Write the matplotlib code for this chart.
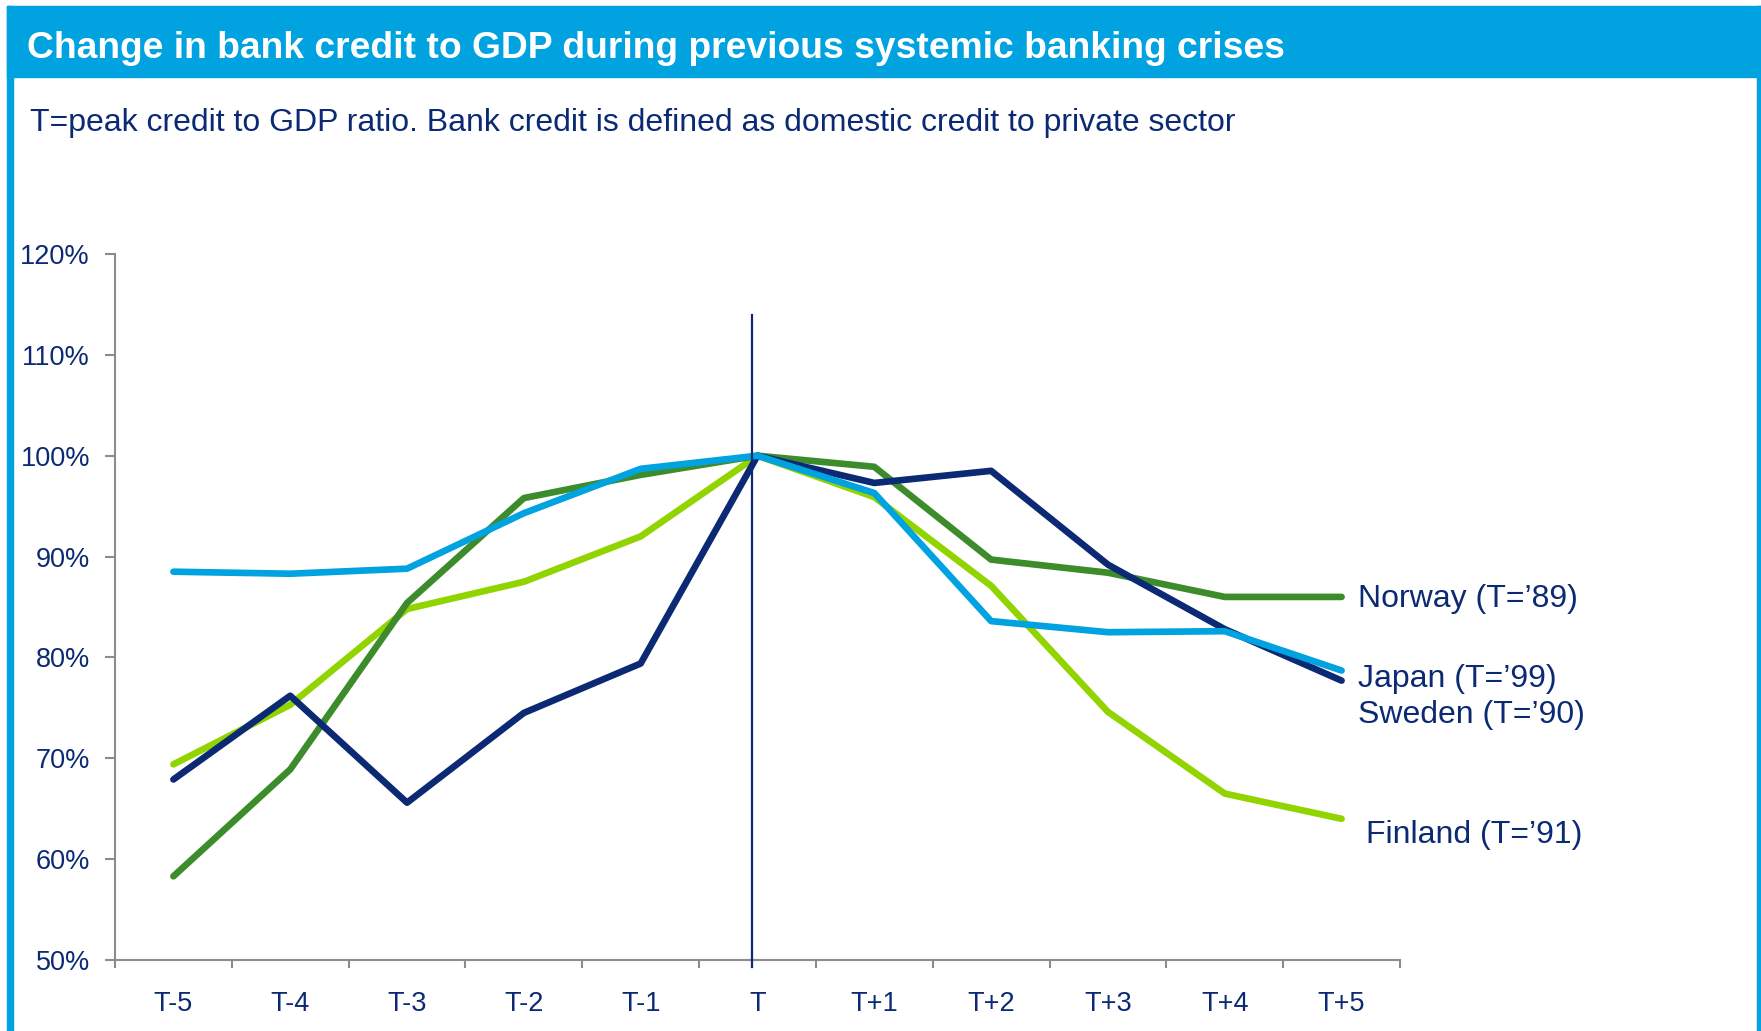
import matplotlib.pyplot as plt
from matplotlib.patches import Rectangle
from matplotlib.ticker import FixedLocator, FuncFormatter

# data (credit/GDP, T = 100%)
periods = ["T-5", "T-4", "T-3", "T-2", "T-1", "T", "T+1", "T+2", "T+3", "T+4", "T+5"]
norway = [58.3, 68.9, 85.4, 95.8, 98.1, 100.0, 98.9, 89.7, 88.4, 86.0, 86.0]
finland = [69.4, 75.3, 84.8, 87.5, 92.0, 100.0, 95.9, 87.1, 74.6, 66.5, 64.0]
sweden = [67.9, 76.2, 65.6, 74.5, 79.4, 100.0, 97.3, 98.5, 89.2, 82.8, 77.7]
japan = [88.5, 88.3, 88.8, 94.3, 98.7, 100.0, 96.3, 83.6, 82.5, 82.6, 78.7]
labels = ["Norway (T=\u201989)", "Japan (T=\u201999)", "Sweden (T=\u201990)", "Finland (T=\u201991)"]

NAVY = "#0B2A73"
BLUE = "#00A3E0"
LGREEN = "#92D400"
DGREEN = "#3C8C2C"
GRAY = "#8C8C8C"

plt.rcParams["font.family"] = ["Liberation Sans", "DejaVu Sans"]

fig = plt.figure(figsize=(17.61, 10.31), dpi=100)

# header band and side borders
fig.patches.append(Rectangle((7 / 1761, 1 - 77 / 1031), 1, 71 / 1031,
                             transform=fig.transFigure, color=BLUE, zorder=0))
fig.patches.append(Rectangle((7 / 1761, 0), 6 / 1761, 1 - 6 / 1031,
                             transform=fig.transFigure, color=BLUE, zorder=0))
fig.patches.append(Rectangle((1757 / 1761, 0), 4 / 1761, 1 - 6 / 1031,
                             transform=fig.transFigure, color=BLUE, zorder=0))

fig.text(27 / 1761, 1 - 49 / 1031,
         "Change in bank credit to GDP during previous systemic banking crises",
         color="white", fontsize=26.8, fontweight="bold", va="center", ha="left")
fig.text(30 / 1761, 1 - 123 / 1031,
         "T=peak credit to GDP ratio. Bank credit is defined as domestic credit to private sector",
         color=NAVY, fontsize=23, va="center", ha="left")

ax = fig.add_axes([115 / 1761, 1 - 960 / 1031, 1285 / 1761, 706 / 1031])
x = list(range(len(periods)))

ax.plot(x, japan, color=BLUE, lw=4.8, solid_capstyle="round", solid_joinstyle="round", zorder=3)
ax.plot(x, finland, color=LGREEN, lw=4.8, solid_capstyle="round", solid_joinstyle="round", zorder=2)
ax.plot(x, norway, color=DGREEN, lw=4.8, solid_capstyle="round", solid_joinstyle="round", zorder=2.5)
ax.plot(x, sweden, color=NAVY, lw=4.8, solid_capstyle="round", solid_joinstyle="round", zorder=2.7)

# vertical marker at the peak year
ax.plot([4.95, 4.95], [49.3, 114], color=NAVY, lw=1.6, clip_on=False, zorder=4)

ax.set_xlim(-0.5, 10.5)
ax.set_ylim(50, 120)

ax.set_xticks(x)
ax.set_xticklabels(periods)
ax.xaxis.set_minor_locator(FixedLocator([i - 0.5 for i in range(12)]))
ax.tick_params(axis="x", which="major", length=0, pad=22, labelsize=19.5, labelcolor=NAVY)
ax.tick_params(axis="x", which="minor", length=6, width=1.5, color=GRAY, direction="out")

ax.set_yticks(range(50, 121, 10))
ax.yaxis.set_major_formatter(FuncFormatter(lambda v, p: f"{v:.0f}%"))
ax.tick_params(axis="y", length=7, width=1.5, color=GRAY, pad=11, labelsize=19.5, labelcolor=NAVY)

for s in ["top", "right"]:
    ax.spines[s].set_visible(False)
for s in ["left", "bottom"]:
    ax.spines[s].set_color(GRAY)
    ax.spines[s].set_linewidth(1.5)

# series labels on the right
label_y = [85.8, 77.9, 74.3, 62.4]
label_x = [10.14, 10.14, 10.14, 10.21]
for lx, ly, t in zip(label_x, label_y, labels):
    ax.text(lx, ly, t, color=NAVY, fontsize=23, va="center", ha="left", clip_on=False)

fig.savefig("out.png", dpi=100)
